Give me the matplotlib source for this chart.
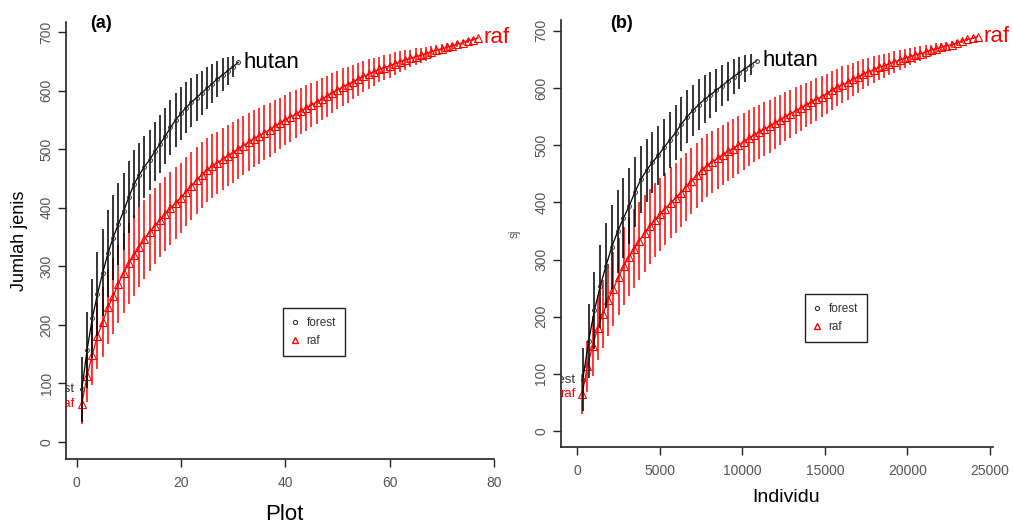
import numpy as np
import matplotlib
matplotlib.use("Agg")
import matplotlib.pyplot as plt
from matplotlib.lines import Line2D
from matplotlib.transforms import ScaledTranslation

plt.rcParams['font.family'] = ['Liberation Sans', 'DejaVu Sans']

# ---------------- data ----------------
forest_richness = [90, 157, 211, 253, 289, 322, 349, 372, 394, 418,
                   440, 456, 470, 482, 496, 509, 522, 537, 550, 561,
                   571, 580, 588, 596, 604, 612, 620, 627, 634, 641, 648]
forest_ci = [55, 65, 68, 72, 74, 74, 72, 70, 66, 62,
             58, 55, 53, 51, 50, 49, 48, 47, 46, 45,
             44, 42, 40, 38, 36, 34, 31, 28, 24, 18, 0]

raf_richness = [65, 113, 149, 181, 205, 230, 249, 270, 289, 305,
                319, 333, 346, 358, 369, 379, 389, 399, 408, 417,
                427, 437, 447, 456, 464, 471, 477, 483, 489, 494,
                500, 506, 512, 518, 523, 528, 533, 539, 544, 550,
                555, 560, 565, 570, 575, 580, 585, 590, 596, 601,
                606, 610, 615, 619, 624, 628, 632, 636, 639, 642,
                646, 649, 652, 655, 658, 660, 663, 666, 669, 671,
                674, 676, 679, 682, 685, 687, 690]
raf_ci = [35, 45, 52, 57, 60, 63, 65, 67, 68, 69,
          69, 68, 67, 66, 65, 64, 63, 62, 61, 60,
          59, 58, 57, 56, 55, 54, 53, 53, 52, 52,
          51, 50, 49, 48, 48, 47, 46, 45, 44, 43,
          42, 41, 40, 39, 38, 37, 36, 35, 34, 33,
          32, 31, 29, 28, 26, 25, 24, 22, 21, 20,
          19, 18, 17, 15, 14, 13, 12, 10, 9, 8,
          7, 6, 5, 4, 3, 2, 0]

forest_ind_per_plot = 351   # mean individuals per plot (panel b x-scale)
raf_ind_per_plot = 315

xticks_a = [0, 20, 40, 60, 80]
xticks_b = [0, 5000, 10000, 15000, 20000, 25000]
yticks = [0, 100, 200, 300, 400, 500, 600, 700]

series_names = ['forest', 'raf']
end_labels = ['hutan', 'raf']

# ---------------- styling ----------------
W, H = 1013, 525
fig = plt.figure(figsize=(W / 100, H / 100), dpi=100)
RED = '#ff0000'
BLK = '#000000'
TICKC = '#555555'


def px_axes(l, r, b, t):
    return [l / W, 1 - b / H, (r - l) / W, (b - t) / H]


def draw_panel(ax, xf, xr, xlim, ylim, xticks):
    fr = np.array(forest_richness, float)
    fc = np.array(forest_ci, float)
    rr = np.array(raf_richness, float)
    rc = np.array(raf_ci, float)
    # raf first
    ax.vlines(xr, rr - rc, rr + rc, colors=RED, lw=1.3, alpha=0.85, zorder=2)
    ax.plot(xr, rr, color=RED, lw=0.9, marker='^', ms=5.5, mfc='none',
            mec=RED, mew=0.8, zorder=3)
    ax.vlines(xf, fr - fc, fr + fc, colors=BLK, lw=1.3, alpha=0.85, zorder=4)
    ax.plot(xf, fr, color=BLK, lw=0.9, marker='o', ms=2.8, mfc='none',
            mec='#333333', mew=0.7, zorder=5)
    ax.set_xlim(*xlim)
    ax.set_ylim(*ylim)
    ax.set_xticks(xticks)
    ax.set_yticks(yticks)
    for s in ['top', 'right']:
        ax.spines[s].set_visible(False)
    for s in ['left', 'bottom']:
        ax.spines[s].set_linewidth(1.2)
        ax.spines[s].set_color('#222222')
    ax.tick_params(axis='both', direction='out', length=5.5, width=1.0,
                   color='#222222', labelsize=10, labelcolor=TICKC)
    ax.tick_params(axis='x', pad=7)
    ax.tick_params(axis='y', pad=3.5, labelrotation=90)
    for lab in ax.get_yticklabels():
        lab.set_va('center')
    # series names at first point, clipped by the plot area
    off = ScaledTranslation(-5 / 72, 0, fig.dpi_scale_trans)
    ax.text(xf[0], fr[0], series_names[0], ha='right', va='center',
            fontsize=9.5, color='#333333', transform=ax.transData + off,
            clip_on=True)
    ax.text(xr[0], rr[0], series_names[1], ha='right', va='center',
            fontsize=9.5, color=RED, transform=ax.transData + off,
            clip_on=True)
    # end labels
    off2 = ScaledTranslation(4 / 72, 0, fig.dpi_scale_trans)
    ax.text(xf[-1], fr[-1], end_labels[0], ha='left', va='center',
            fontsize=16, color=BLK, transform=ax.transData + off2,
            clip_on=False)
    ax.text(xr[-1], rr[-1], end_labels[1], ha='left', va='center',
            fontsize=16, color=RED, transform=ax.transData + off2,
            clip_on=False)


def add_legend(ax, left_px, top_px):
    handles = [Line2D([], [], ls='none', marker='o', ms=3, mfc='none',
                      mec='#333333', mew=0.8),
               Line2D([], [], ls='none', marker='^', ms=5, mfc='none',
                      mec=RED, mew=1.0)]
    leg = ax.legend(handles, series_names, loc='upper left',
                    bbox_to_anchor=(left_px / W, 1 - top_px / H),
                    bbox_transform=fig.transFigure, fontsize=8.5,
                    frameon=True, fancybox=False, framealpha=1,
                    edgecolor='#222222', borderpad=0.8, labelspacing=0.47,
                    handlelength=0.5, handletextpad=0.7, borderaxespad=0)
    leg.get_frame().set_linewidth(1.0)
    for t in leg.get_texts():
        t.set_color('#333333')


n_f = len(forest_richness)
n_r = len(raf_richness)
plots_f = np.arange(1, n_f + 1)
plots_r = np.arange(1, n_r + 1)

# panel (a)
axa = fig.add_axes(px_axes(66, 494, 459, 22))
draw_panel(axa, plots_f, plots_r, (-2.04, 80.04), (-29, 717), xticks_a)
axa.set_xlabel('Plot', fontsize=16)
axa.xaxis.set_label_coords((284 - 66) / 428, -(515 - 459) / 437)
axa.xaxis.label.set_va('center')
axa.set_ylabel('Jumlah jenis', fontsize=13, labelpad=8)
add_legend(axa, 283, 308)
fig.text(90 / W, 1 - 24 / H, '(a)', fontsize=13, fontweight='bold',
         ha='left', va='center')

# panel (b)
axb = fig.add_axes(px_axes(561, 993, 447, 20))
draw_panel(axb, plots_f * forest_ind_per_plot, plots_r * raf_ind_per_plot,
           (-968, 25180), (-28, 719), xticks_b)
axb.set_xlabel('Individu', fontsize=14)
axb.xaxis.set_label_coords((786 - 561) / 432, -(497 - 447) / 427)
axb.xaxis.label.set_va('center')
axb.set_ylabel('sj', fontsize=8.5, color=TICKC, labelpad=10)
add_legend(axb, 805, 294)
fig.text(610 / W, 1 - 23 / H, '(b)', fontsize=13, fontweight='bold',
         ha='left', va='center')

fig.savefig('out.png', dpi=100)
